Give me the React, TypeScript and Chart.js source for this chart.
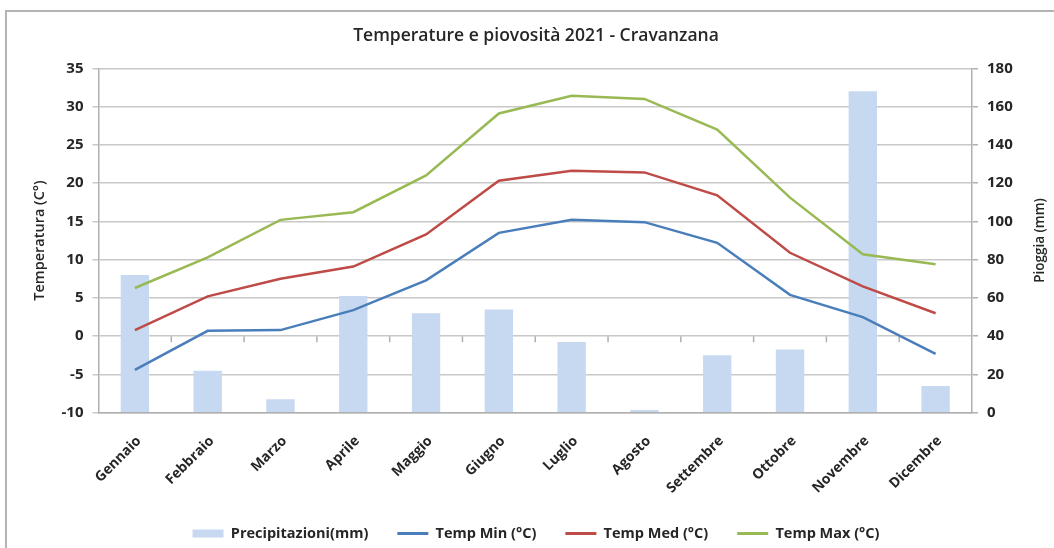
import { useEffect, useRef } from "react";
import { Chart, registerables } from "chart.js";

Chart.register(...registerables);

const TITLE = "Temperature e piovosità 2021 - Cravanzana";
const months = ["Gennaio", "Febbraio", "Marzo", "Aprile", "Maggio", "Giugno", "Luglio", "Agosto", "Settembre", "Ottobre", "Novembre", "Dicembre"];
const precipitazioni = [72, 22, 7, 61, 52, 54, 37, 1.5, 30, 33, 168, 14];
const tempMin = [-4.4, 0.7, 0.8, 3.4, 7.3, 13.5, 15.2, 14.9, 12.2, 5.4, 2.5, -2.3];
const tempMed = [0.8, 5.2, 7.5, 9.1, 13.3, 20.3, 21.6, 21.4, 18.4, 10.9, 6.5, 3.0];
const tempMax = [6.3, 10.3, 15.2, 16.2, 21.0, 29.1, 31.4, 31.0, 27.0, 18.1, 10.7, 9.4];
const tempRange = { min: -10, max: 35, step: 5 };
const rainRange = { min: 0, max: 180, step: 20 };

const FONT = "'Open Sans', 'Noto Sans', sans-serif";
const TEXT = "#262626";
const GRID = "#c8c8c8";
const AXIS = "#b0b0b0";

const excelExtras = {
  id: "excelExtras",
  beforeDatasetsDraw(chart: any) {
    const { ctx, scales } = chart;
    const x = scales.x;
    const y = scales.y;
    const y0 = y.getPixelForValue(0);
    const half = (x.getPixelForValue(1) - x.getPixelForValue(0)) / 2;
    ctx.save();
    ctx.strokeStyle = AXIS;
    ctx.lineWidth = 1.5;
    ctx.beginPath();
    for (let i = 1; i < months.length; i++) {
      const px = x.getPixelForValue(i) - half;
      ctx.moveTo(px, y0);
      ctx.lineTo(px, y0 + 6);
    }
    ctx.stroke();
    ctx.restore();
  },
  afterDraw(chart: any) {
    const { ctx, chartArea } = chart;
    ctx.save();
    ctx.translate(1040, (chartArea.top + chartArea.bottom) / 2);
    ctx.rotate(-Math.PI / 2);
    ctx.fillStyle = TEXT;
    ctx.font = `600 13.5px ${FONT}`;
    ctx.textAlign = "center";
    ctx.textBaseline = "middle";
    ctx.fillText("Pioggia (mm)", 0, 0);
    ctx.restore();
  },
};

export default function App() {
  const ref = useRef<HTMLCanvasElement | null>(null);

  useEffect(() => {
    if (!ref.current) return;
    const chart = new Chart(ref.current, {
      type: "bar",
      data: {
        labels: months,
        datasets: [
          {
            type: "bar",
            label: "Precipitazioni(mm)",
            data: precipitazioni,
            yAxisID: "y1",
            backgroundColor: "#c6d9f1",
            borderWidth: 0,
            barPercentage: 0.39,
            categoryPercentage: 1,
            order: 10,
          },
          {
            type: "line",
            label: "Temp Min (°C)",
            data: tempMin,
            yAxisID: "y",
            borderColor: "#4a7ebb",
            backgroundColor: "#4a7ebb",
            borderWidth: 2.5,
            pointRadius: 0,
            tension: 0,
            order: 1,
          },
          {
            type: "line",
            label: "Temp Med (°C)",
            data: tempMed,
            yAxisID: "y",
            borderColor: "#be4b48",
            backgroundColor: "#be4b48",
            borderWidth: 2.5,
            pointRadius: 0,
            tension: 0,
            order: 1,
          },
          {
            type: "line",
            label: "Temp Max (°C)",
            data: tempMax,
            yAxisID: "y",
            borderColor: "#98b954",
            backgroundColor: "#98b954",
            borderWidth: 2.5,
            pointRadius: 0,
            tension: 0,
            order: 1,
          },
        ],
      },
      options: {
        responsive: false,
        animation: false,
        layout: { padding: { left: 18, right: 0, top: 0, bottom: 0.75 } },
        plugins: {
          tooltip: { enabled: false },
          title: {
            display: true,
            text: TITLE,
            color: TEXT,
            font: { family: FONT, size: 17.5, weight: "600" as any },
            padding: { top: 25.5, bottom: 21.8 },
          },
          legend: {
            position: "bottom",
            maxHeight: 50,
            labels: {
              color: TEXT,
              font: { family: FONT, size: 14.5, weight: "bold" },
              usePointStyle: true,
              pointStyleWidth: 31,
              boxHeight: 8,
              padding: 29,
              sort: (a: any, b: any) => a.datasetIndex - b.datasetIndex,
              generateLabels(c: any) {
                const items = (Chart.defaults.plugins.legend.labels as any).generateLabels(c);
                return items.map((it: any) => {
                  const ds = c.data.datasets[it.datasetIndex];
                  const isBar = it.datasetIndex === 0;
                  return {
                    ...it,
                    pointStyle: isBar ? "rect" : "line",
                    lineWidth: isBar ? 0 : 3,
                    fillStyle: ds.backgroundColor,
                    strokeStyle: ds.borderColor ?? ds.backgroundColor,
                  };
                });
              },
            },
          },
        },
        scales: {
          x: {
            offset: true,
            grid: { display: false },
            border: { display: true, color: AXIS, width: 1.5 },
            ticks: {
              color: TEXT,
              font: { family: FONT, size: 14, weight: "bold" },
              minRotation: 45,
              maxRotation: 45,
              labelOffset: 4,
              padding: 12,
              autoSkip: false,
            },
            afterFit(scale: any) {
              scale.height = 84.5;
            },
          },
          y: {
            position: "left",
            min: tempRange.min,
            max: tempRange.max,
            ticks: {
              stepSize: tempRange.step,
              color: TEXT,
              font: { family: FONT, size: 15, weight: "bold" },
              padding: 9,
            },
            grid: { color: GRID, lineWidth: 1.5, tickLength: 6 },
            border: { display: true, color: AXIS, width: 1.5 },
            title: {
              display: true,
              text: "Temperatura (C°)",
              color: TEXT,
              font: { family: FONT, size: 14.5, weight: "600" as any },
              padding: { top: 13, bottom: 0 },
            },
            afterFit(scale: any) {
              scale.width = 80.5;
            },
          },
          y1: {
            position: "right",
            min: rainRange.min,
            max: rainRange.max,
            ticks: {
              stepSize: rainRange.step,
              color: TEXT,
              font: { family: FONT, size: 15, weight: "bold" },
              padding: 9,
            },
            grid: { drawOnChartArea: false, color: AXIS, lineWidth: 1.5, tickLength: 6 },
            border: { display: true, color: AXIS, width: 1.5 },
            afterFit(scale: any) {
              scale.width = 82;
            },
          },
        },
      },
      plugins: [excelExtras],
    });
    return () => chart.destroy();
  }, []);

  return (
    <div style={{ position: "fixed", left: 0, top: 0, width: 1054, height: 548, background: "#fff", overflow: "hidden" }}>
      <div
        style={{
          position: "absolute",
          left: 5,
          top: 10,
          width: 1200,
          height: 700,
          border: "2px solid #b4b4b4",
          boxShadow: "1px 1px 2px rgba(0,0,0,0.15)",
        }}
      />
      <canvas ref={ref} width={1054} height={548} style={{ position: "absolute", left: 0, top: 0, display: "block" }} />
    </div>
  );
}
